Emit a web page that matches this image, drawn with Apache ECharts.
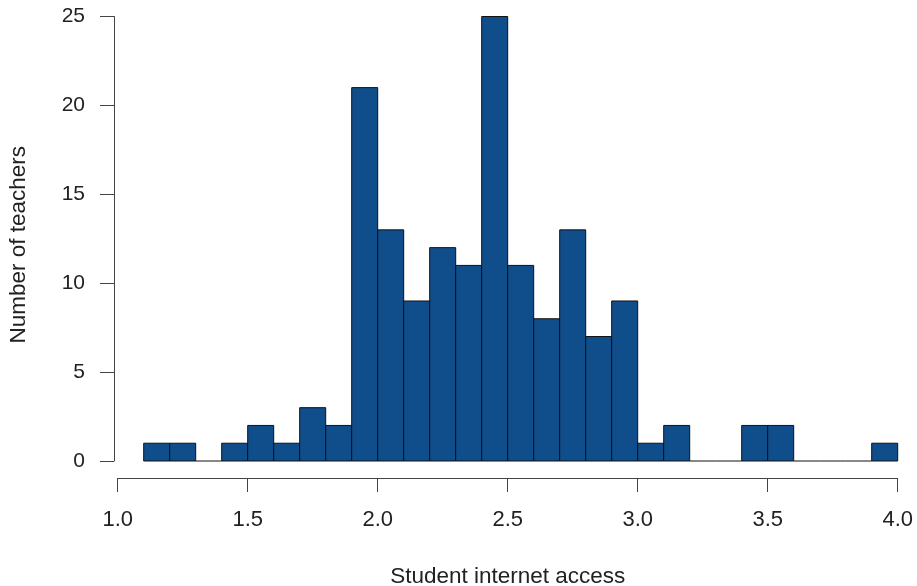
<!DOCTYPE html>
<html>
<head>
<meta charset="utf-8">
<script src="https://cdn.jsdelivr.net/npm/echarts@6/dist/echarts.min.js"></script>
<style>
html,body{margin:0;padding:0;background:#fff;}
#chart{width:917px;height:586px;}
</style>
</head>
<body>
<div id="chart"></div>
<script>
const binStarts = [1.1,1.2,1.3,1.4,1.5,1.6,1.7,1.8,1.9,2.0,2.1,2.2,2.3,2.4,2.5,2.6,2.7,2.8,2.9,3.0,3.1,3.2,3.3,3.4,3.5,3.6,3.7,3.8,3.9];
const binEnds   = [1.2,1.3,1.4,1.5,1.6,1.7,1.8,1.9,2.0,2.1,2.2,2.3,2.4,2.5,2.6,2.7,2.8,2.9,3.0,3.1,3.2,3.3,3.4,3.5,3.6,3.7,3.8,3.9,4.0];
const counts    = [1,1,0,1,2,1,3,2,21,13,9,12,11,25,11,8,13,7,9,1,2,0,0,2,2,0,0,0,1];
const xTickLabels = ['1.0','1.5','2.0','2.5','3.0','3.5','4.0'];
const yTickLabels = ['0','5','10','15','20','25'];

const data = binStarts.map((s, i) => [s, binEnds[i], counts[i]]);

const chart = echarts.init(document.getElementById('chart'));
const font = 'Liberation Sans, Arial, Helvetica, sans-serif';
chart.setOption({
  animation: false,
  backgroundColor: '#fff',
  grid: {left: 117.7, right: 19.3, top: 16.5, bottom: 125, containLabel: false, outerBoundsMode: 'none'},
  xAxis: {
    type: 'value', min: 1.0, max: 4.0, interval: 0.5,
    position: 'bottom', offset: 17,
    name: 'Student internet access', nameLocation: 'middle', nameGap: 87,
    nameTextStyle: {fontFamily: font, fontSize: 22.5, color: '#222'},
    axisLine: {show: true, onZero: false, lineStyle: {color: '#444', width: 1}},
    axisTick: {show: true, length: 14, lineStyle: {color: '#444', width: 1}},
    axisLabel: {margin: 31, fontFamily: font, fontSize: 22, color: '#222',
      formatter: v => { const t = v.toFixed(1); return xTickLabels.includes(t) ? t : ''; }},
    splitLine: {show: false}
  },
  yAxis: {
    type: 'value', min: 0, max: 25, interval: 5,
    position: 'left', offset: 3.7,
    name: 'Number of teachers', nameLocation: 'middle', nameGap: 84,
    nameTextStyle: {fontFamily: font, fontSize: 22.5, color: '#222', padding: [0, 12, 0, 0]},
    axisLine: {show: true, onZero: false, lineStyle: {color: '#444', width: 1}},
    axisTick: {show: true, length: 14, lineStyle: {color: '#444', width: 1}},
    axisLabel: {margin: 29, fontFamily: font, fontSize: 21, color: '#222',
      formatter: v => { const t = String(v); return yTickLabels.includes(t) ? t : ''; }},
    splitLine: {show: false}
  },
  series: [{
    type: 'custom',
    data: data,
    encode: {x: [0, 1], y: 2},
    renderItem: function (params, api) {
      const p0 = api.coord([api.value(0), api.value(2)]);
      const p1 = api.coord([api.value(1), 0]);
      if (api.value(2) === 0) {
        return {
          type: 'line',
          shape: {x1: p0[0], y1: p1[1], x2: p1[0], y2: p1[1]},
          style: {stroke: '#111', lineWidth: 1}
        };
      }
      return {
        type: 'rect',
        shape: {x: p0[0], y: p0[1], width: p1[0] - p0[0], height: p1[1] - p0[1]},
        style: {fill: '#104E8B', stroke: '#111', lineWidth: 1}
      };
    }
  }]
});
</script>
</body>
</html>
